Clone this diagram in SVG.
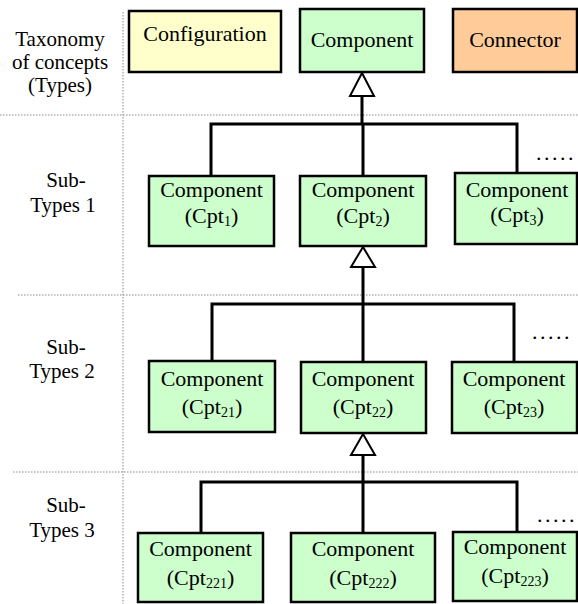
<svg xmlns="http://www.w3.org/2000/svg" width="578" height="604" viewBox="0 0 578 604" font-family="Liberation Serif, serif">
<style>
text{font-family:'Liberation Serif',serif;fill:#000}
.lbl{font-size:21px;text-anchor:middle}
.bt{font-size:22px;text-anchor:middle}
.sub{font-size:14px}
.box{stroke:#000;stroke-width:2.5}
.cpt{fill:#CCFFCC}
.grid{stroke:#888;stroke-width:1;stroke-dasharray:1.5 1.5;fill:none}
.ln{stroke:#000;stroke-width:3;fill:none}
.tri{fill:#fff;stroke:#000;stroke-width:2}
.dots{font-size:22px;letter-spacing:2.5px}
</style>
<rect width="578" height="604" fill="#fff"/>
<g id="grid">
<line class="grid" x1="123" y1="12" x2="123" y2="604"/>
<line class="grid" x1="0" y1="115" x2="578" y2="115"/>
<line class="grid" x1="18" y1="295" x2="578" y2="295"/>
<line class="grid" x1="13" y1="472" x2="578" y2="472"/>
</g>
<g id="labels">
<text class="lbl" x="60" y="46">Taxonomy</text>
<text class="lbl" x="60" y="69">of concepts</text>
<text class="lbl" x="60" y="92">(Types)</text>
<text class="lbl" x="66" y="187">Sub-</text>
<text class="lbl" x="63" y="212">Types 1</text>
<text class="lbl" x="66" y="354">Sub-</text>
<text class="lbl" x="62" y="378">Types 2</text>
<text class="lbl" x="66" y="512">Sub-</text>
<text class="lbl" x="62" y="537">Types 3</text>
</g>
<g id="connectors">
<path class="ln" d="M362,96 V124 M211,176 V124 H517 V173 M363,124 V176"/>
<polygon class="tri" points="362,73 350,96 374,96"/>
<path class="ln" d="M363,267 V304 M212,361 V304 H514 V362 M363,304 V362"/>
<polygon class="tri" points="363,247 351,267 375,267"/>
<path class="ln" d="M363,455 V482 M201,533 V482 H517 V532 M363,482 V533"/>
<polygon class="tri" points="363,434 351,455 375,455"/>
</g>
<g id="ellipses">
<text class="dots" x="536" y="160">.....</text>
<text class="dots" x="532" y="339">.....</text>
<text class="dots" x="537" y="522">.....</text>
</g>
<g id="configuration">
<rect class="box" x="129" y="11" width="152" height="61" fill="#FFFFCC"/>
<text class="bt" x="205" y="41">Configuration</text>
</g>
<g id="component">
<rect class="box cpt" x="300" y="9" width="124" height="63"/>
<text class="bt" x="362" y="47">Component</text>
</g>
<g id="connector">
<rect class="box" x="453" y="9" width="124" height="63" fill="#FFCC99"/>
<text class="bt" x="515" y="47">Connector</text>
</g>
<g id="cpt1">
<rect class="box cpt" x="149" y="176" width="125" height="70"/>
<text class="bt" x="211.5" y="197">Component</text>
<text class="bt" x="211.5" y="223">(Cpt<tspan class="sub" dy="3">1</tspan><tspan dy="-3">)</tspan></text>
</g>
<g id="cpt2">
<rect class="box cpt" x="300" y="176" width="126" height="70"/>
<text class="bt" x="363" y="197">Component</text>
<text class="bt" x="363" y="223">(Cpt<tspan class="sub" dy="3">2</tspan><tspan dy="-3">)</tspan></text>
</g>
<g id="cpt3">
<rect class="box cpt" x="455" y="173" width="122" height="71"/>
<text class="bt" x="517" y="197">Component</text>
<text class="bt" x="517" y="222">(Cpt<tspan class="sub" dy="3">3</tspan><tspan dy="-3">)</tspan></text>
</g>
<g id="cpt21">
<rect class="box cpt" x="149" y="361" width="126" height="71"/>
<text class="bt" x="212" y="386">Component</text>
<text class="bt" x="212" y="414">(Cpt<tspan class="sub" dy="3">21</tspan><tspan dy="-3">)</tspan></text>
</g>
<g id="cpt22">
<rect class="box cpt" x="301" y="362" width="125" height="71"/>
<text class="bt" x="363" y="386">Component</text>
<text class="bt" x="363" y="414">(Cpt<tspan class="sub" dy="3">22</tspan><tspan dy="-3">)</tspan></text>
</g>
<g id="cpt23">
<rect class="box cpt" x="452" y="362" width="125" height="71"/>
<text class="bt" x="514" y="386">Component</text>
<text class="bt" x="514" y="414">(Cpt<tspan class="sub" dy="3">23</tspan><tspan dy="-3">)</tspan></text>
</g>
<g id="cpt221">
<rect class="box cpt" x="138" y="533" width="125" height="69"/>
<text class="bt" x="200.5" y="556">Component</text>
<text class="bt" x="200.5" y="585">(Cpt<tspan class="sub" dy="3">221</tspan><tspan dy="-3">)</tspan></text>
</g>
<g id="cpt222">
<rect class="box cpt" x="291" y="533" width="144" height="69"/>
<text class="bt" x="363" y="556">Component</text>
<text class="bt" x="363" y="585">(Cpt<tspan class="sub" dy="3">222</tspan><tspan dy="-3">)</tspan></text>
</g>
<g id="cpt223">
<rect class="box cpt" x="453" y="532" width="124" height="69"/>
<text class="bt" x="515" y="554">Component</text>
<text class="bt" x="515" y="583">(Cpt<tspan class="sub" dy="3">223</tspan><tspan dy="-3">)</tspan></text>
</g>
</svg>
